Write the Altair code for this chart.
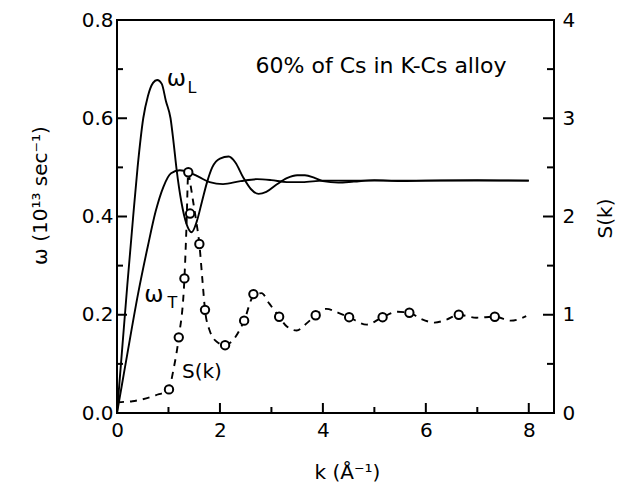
import altair as alt
import pandas as pd

W, H = 437, 393
FONT = "DejaVu Sans"

# omega_L dispersion curve
kL = [0, 0.1, 0.2, 0.31, 0.4, 0.51, 0.6, 0.7, 0.78, 0.87, 0.95, 1.04, 1.1, 1.16, 1.25, 1.35, 1.45,
      1.55, 1.65, 1.75, 1.85, 2.0, 2.17, 2.3, 2.45, 2.6, 2.75, 2.9, 3.1, 3.3, 3.5, 3.65, 3.85, 4.0,
      4.3, 4.6, 5.0, 5.5, 6.0, 7.0, 8.0]
wL = [0, 0.13, 0.26, 0.395, 0.50, 0.60, 0.645, 0.672, 0.678, 0.67, 0.635, 0.60, 0.55, 0.494, 0.43,
      0.385, 0.368, 0.39, 0.43, 0.47, 0.50, 0.518, 0.522, 0.51, 0.48, 0.456, 0.446, 0.45, 0.465,
      0.478, 0.484, 0.484, 0.478, 0.472, 0.469, 0.471, 0.474, 0.472, 0.473, 0.474, 0.473]

# omega_T dispersion curve
kT = [0, 0.1, 0.2, 0.41, 0.6, 0.75, 0.9, 1.05, 1.22, 1.4, 1.6, 1.8, 2.06, 2.4, 2.72, 3.0, 3.3,
      3.6, 4.0, 5.0, 6.0, 7.0, 8.0]
wT = [0, 0.06, 0.12, 0.243, 0.34, 0.41, 0.46, 0.488, 0.494, 0.49, 0.48, 0.47, 0.466, 0.472,
      0.476, 0.474, 0.47, 0.47, 0.473, 0.473, 0.473, 0.473, 0.473]

# S(k) dashed curve
kS = [0, 0.3, 0.5, 0.75, 1.0, 1.1, 1.2, 1.31, 1.35, 1.385, 1.42, 1.48, 1.54, 1.6, 1.66, 1.71,
      1.8, 1.95, 2.1, 2.25, 2.47, 2.65, 2.81, 2.95, 3.15, 3.3, 3.49, 3.7, 3.86, 4.07, 4.3, 4.51,
      4.85, 5.16, 5.45, 5.68, 5.9, 6.17, 6.4, 6.64, 6.98, 7.34, 7.65, 7.95]
sS = [0.11, 0.12, 0.14, 0.18, 0.24, 0.45, 0.77, 1.37, 1.9, 2.45, 2.35, 2.15, 1.95, 1.72, 1.35,
      1.05, 0.84, 0.72, 0.69, 0.74, 0.94, 1.19, 1.22, 1.12, 0.98, 0.88, 0.84, 0.92, 0.995, 1.06,
      1.02, 0.975, 0.90, 0.975, 1.03, 1.02, 0.96, 0.92, 0.95, 1.0, 0.97, 0.98, 0.94, 0.985]

# S(k) data points (circles)
kP = [1.01, 1.20, 1.31, 1.42, 1.385, 1.60, 1.71, 2.10, 2.47, 2.65, 3.15, 3.86, 4.51, 5.16,
      5.68, 6.64, 7.34]
sP = [0.24, 0.77, 1.37, 2.03, 2.45, 1.72, 1.05, 0.69, 0.94, 1.21, 0.98, 0.995, 0.975, 0.975,
      1.02, 1.0, 0.98]

# axis tick values
x_labels = [0, 2, 4, 6, 8]
x_major = [2, 4, 6, 8]
x_minor = [1, 3, 5, 7]
w_labels = [0.0, 0.2, 0.4, 0.6, 0.8]
w_major = [0.2, 0.4, 0.6]
w_minor = [0.1, 0.3, 0.5, 0.7]
s_labels = [0, 1, 2, 3, 4]
s_major = [1, 2, 3]
s_minor = [0.5, 1.5, 2.5, 3.5]

# annotations
ann_text = ["60% of Cs in K-Cs alloy", "ω", "L", "ω", "T", "S(k)"]
ann_k = [5.13, 1.155, 1.456, 0.718, 1.078, 1.65]
ann_w = [0.707, 0.680, 0.661, 0.241, 0.223, 0.083]
ann_fs = [22, 23, 16, 23, 16, 20]

xscale = alt.Scale(domain=[0, 8.49], nice=False, zero=False)
wscale = alt.Scale(domain=[0, 0.8], nice=False)
sscale = alt.Scale(domain=[0, 4], nice=False)

x_axis = alt.Axis(values=x_labels, format="d", title="k (Å⁻¹)", labelPadding=7, labelFlush=False,
                  titleX=230, titleY=59, titleBaseline="middle", titleAnchor="middle")
w_axis = alt.Axis(values=w_labels, format=".1f", title="ω (10¹³ sec⁻¹)", labelPadding=4,
                  labelFlush=False,
                  titleX=-77, titleY=175, titleAngle=270, titleBaseline="middle")
s_axis = alt.Axis(orient="right", values=s_labels, format="d", title="S(k)", labelPadding=8,
                  labelFlush=False,
                  titleX=51, titleY=198, titleAngle=270, titleBaseline="middle")


def X():
    return alt.X("k:Q", scale=xscale, axis=x_axis)


def Yw():
    return alt.Y("w:Q", scale=wscale, axis=w_axis)


def Ys():
    return alt.Y("s:Q", scale=sscale, axis=s_axis)


omega_df = pd.concat([
    pd.DataFrame({"k": kL, "w": wL, "series": "wL"}),
    pd.DataFrame({"k": kT, "w": wT, "series": "wT"}),
])
s_line_df = pd.DataFrame({"k": kS, "s": sS})
s_pt_df = pd.DataFrame({"k": kP, "s": sP})
ann_df = pd.DataFrame({"k": ann_k, "w": ann_w, "text": ann_text, "fs": ann_fs})

lines = alt.Chart(omega_df).mark_line(color="black", strokeWidth=1.9, interpolate="monotone").encode(
    x=X(), y=Yw(), detail="series:N")

texts = alt.Chart(ann_df).mark_text(color="black", font=FONT, align="center", baseline="middle").encode(
    x=X(), y=Yw(), text="text:N", size=alt.Size("fs:Q", scale=None, legend=None))

xmaj = alt.Chart(pd.DataFrame({"k": x_major})).mark_rule(color="black", strokeWidth=2).encode(
    x=X(), y=alt.value(H), y2=alt.value(H - 10))
xmin = alt.Chart(pd.DataFrame({"k": x_minor})).mark_rule(color="black", strokeWidth=2).encode(
    x=X(), y=alt.value(H), y2=alt.value(H - 6))
wmaj = alt.Chart(pd.DataFrame({"w": w_major})).mark_rule(color="black", strokeWidth=2).encode(
    y=Yw(), x=alt.value(0), x2=alt.value(10))
wmin = alt.Chart(pd.DataFrame({"w": w_minor})).mark_rule(color="black", strokeWidth=2).encode(
    y=Yw(), x=alt.value(0), x2=alt.value(6))

omega_group = alt.layer(lines, texts, xmaj, xmin, wmaj, wmin)

s_line = alt.Chart(s_line_df).mark_line(color="black", strokeWidth=1.9, strokeDash=[7, 6],
                                        interpolate="monotone").encode(x=X(), y=Ys())
s_pts = alt.Chart(s_pt_df).mark_point(shape="circle", filled=True, fill="white", stroke="black",
                                      strokeWidth=2, size=70, opacity=1).encode(x=X(), y=Ys())
smaj = alt.Chart(pd.DataFrame({"s": s_major})).mark_rule(color="black", strokeWidth=2).encode(
    y=Ys(), x=alt.value(W), x2=alt.value(W - 11))
smin = alt.Chart(pd.DataFrame({"s": s_minor})).mark_rule(color="black", strokeWidth=2).encode(
    y=Ys(), x=alt.value(W), x2=alt.value(W - 7))

s_group = alt.layer(s_line, s_pts, smaj, smin)

chart = alt.layer(omega_group, s_group).resolve_scale(y="independent").properties(
    width=W, height=H,
    background="white",
    autosize=alt.AutoSizeParams(type="none"),
    padding={"left": 109, "top": 12, "right": 64, "bottom": 70},
).configure_view(stroke="black", strokeWidth=2).configure_axis(
    domain=False, ticks=False, grid=False, labelFont=FONT, titleFont=FONT,
    labelFontSize=20, titleFontSize=20, labelColor="black", titleColor="black",
    titleFontWeight="normal",
)

chart.save("out.html", embed_options={"renderer": "svg", "actions": False})
